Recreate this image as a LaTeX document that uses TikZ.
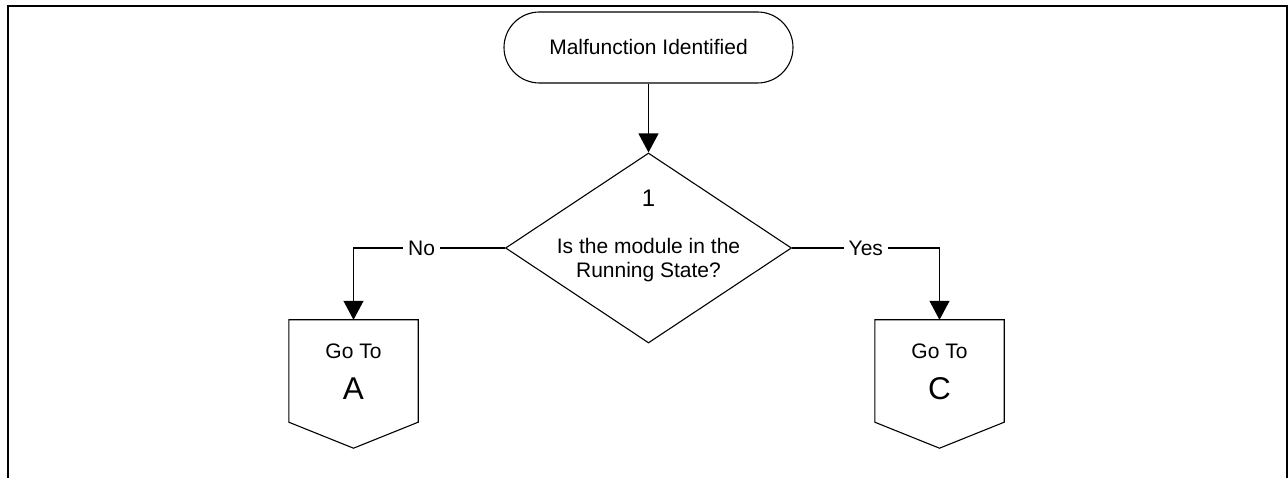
\documentclass[tikz,border=0pt]{standalone}
\usepackage{fontspec}
\setmainfont{Liberation Sans}
\usetikzlibrary{arrows.meta,shapes.geometric,calc}
\begin{document}
\begin{tikzpicture}[x=1pt,y=-1pt,
  txt/.style={font=\fontsize{21}{24}\selectfont,inner sep=0pt,anchor=base},
  bigtxt/.style={font=\fontsize{31.5}{36}\selectfont,inner sep=0pt,anchor=base},
  frameline/.style={line width=2.4pt},
  shapeline/.style={draw,line width=1.1pt},
  terminal/.style={shapeline,rectangle,rounded corners=35.5pt,
    minimum width=289pt,minimum height=71pt,inner sep=0pt},
  decision/.style={shapeline,diamond,minimum width=286pt,
    minimum height=190pt,inner sep=0pt},
  offpage/.style={rectangle,minimum width=129pt,minimum height=102pt,inner sep=0pt},
  flow/.style={line width=1.2pt,-{Triangle[length=19pt,width=20pt]}},
  branch/.style={txt,fill=white,inner xsep=5pt,inner ysep=2pt,anchor=center}
]
\useasboundingbox (0,0) rectangle (1288,478);

% page frame, open at the bottom
\draw[frameline] (7.8,480) -- (7.8,6.2) -- (1286.7,6.2) -- (1286.7,480);

% start terminal
\node[terminal] (start) at (648.5,47.5) {};
\node[txt] (startlbl) at (648.5,54.3) {Malfunction Identified};

% decision 1
\node[decision] (dec) at (648.5,248) {};
\node[txt,font=\fontsize{24}{28}\selectfont] (decnum) at (648.5,207) {1};
\node[txt] (decq1) at (648.5,253.3) {Is the module in the};
\node[txt] (decq2) at (648.5,278) {Running State?};

% off-page connectors
\node[offpage] (goA) at (353.5,371) {};
\node[offpage] (goC) at (939.5,371) {};
\foreach \g in {goA,goC}{
  \draw[line width=1.1pt] (\g.north west) -- (\g.north east) -- (\g.south east)
    -- ($(\g.south)+(0,26)$) -- (\g.south west) -- cycle;
}
\node[txt] (goAt) at (353.5,358.3) {Go To};
\node[bigtxt] (goAl) at (353.5,399.3) {A};
\node[txt] (goCt) at (939.5,358.3) {Go To};
\node[bigtxt] (goCl) at (939.5,399.3) {C};

% connectors
\draw[flow] (start.south) -- (dec.north);
\draw[flow] (dec.west) -| (goA.north)
  node[branch,pos=0.275] (no) {No};
\draw[flow] (dec.east) -| (goC.north)
  node[branch,pos=0.25] (yes) {Yes};
\end{tikzpicture}
\end{document}
